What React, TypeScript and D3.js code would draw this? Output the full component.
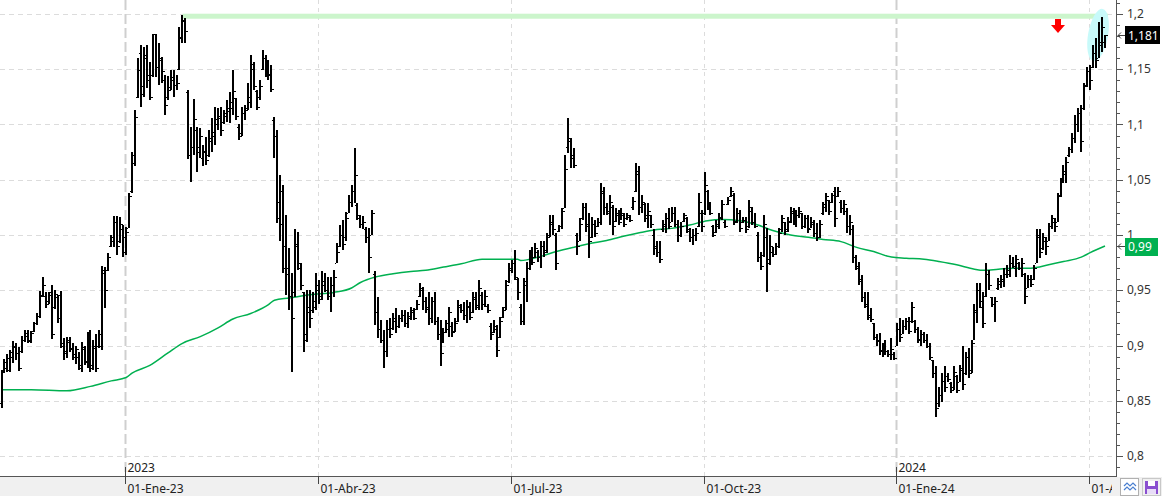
import * as d3 from 'd3';

const W = 1162;
const H = 496;
const START_DAY = '2022-11-03';

// [open, high, low, close] por sesión
const barsQ4_2022 = [
  [0.848, 0.878, 0.843, 0.876], [0.876, 0.888, 0.875, 0.885], [0.880, 0.892, 0.876, 0.889], [0.878, 0.896, 0.876, 0.894],
  [0.890, 0.904, 0.884, 0.900], [0.899, 0.902, 0.887, 0.893], [0.893, 0.899, 0.877, 0.880], [0.895, 0.909, 0.893, 0.905],
  [0.905, 0.914, 0.903, 0.911], [0.909, 0.914, 0.902, 0.904], [0.905, 0.913, 0.902, 0.911], [0.913, 0.921, 0.912, 0.920],
  [0.920, 0.929, 0.919, 0.927], [0.927, 0.949, 0.925, 0.945], [0.946, 0.962, 0.944, 0.955], [0.945, 0.948, 0.934, 0.938],
  [0.940, 0.948, 0.938, 0.946], [0.948, 0.955, 0.906, 0.910], [0.935, 0.950, 0.933, 0.947], [0.944, 0.946, 0.920, 0.925],
  [0.946, 0.949, 0.898, 0.902], [0.900, 0.907, 0.887, 0.895], [0.893, 0.908, 0.889, 0.905], [0.903, 0.908, 0.894, 0.897],
  [0.898, 0.902, 0.887, 0.890], [0.892, 0.900, 0.883, 0.897], [0.890, 0.894, 0.878, 0.882], [0.880, 0.903, 0.876, 0.899],
  [0.897, 0.900, 0.882, 0.886], [0.885, 0.912, 0.880, 0.908], [0.910, 0.914, 0.876, 0.880], [0.882, 0.905, 0.878, 0.900],
  [0.898, 0.910, 0.876, 0.880], [0.900, 0.914, 0.898, 0.910], [0.900, 0.972, 0.896, 0.968], [0.966, 0.971, 0.934, 0.950],
  [0.968, 0.984, 0.967, 0.980], [0.990, 1.000, 0.989, 0.998], [0.995, 1.017, 0.989, 1.012], [1.012, 1.017, 0.982, 0.990],
  [0.995, 1.016, 0.993, 1.010], [1.005, 1.009, 0.980, 0.998],
];

const barsQ1_2023 = [
  [0.985, 1.007, 0.982, 1.003], [1.006, 1.038, 1.006, 1.035], [1.040, 1.075, 1.038, 1.072], [1.065, 1.113, 1.062, 1.107],
  [1.125, 1.160, 1.124, 1.149], [1.165, 1.172, 1.116, 1.135], [1.128, 1.170, 1.125, 1.163], [1.160, 1.172, 1.133, 1.145],
  [1.140, 1.157, 1.122, 1.125], [1.145, 1.182, 1.143, 1.182], [1.182, 1.182, 1.143, 1.152], [1.152, 1.174, 1.136, 1.160],
  [1.158, 1.161, 1.138, 1.148], [1.140, 1.145, 1.109, 1.118], [1.125, 1.144, 1.122, 1.131], [1.134, 1.149, 1.131, 1.140],
  [1.143, 1.149, 1.125, 1.136], [1.136, 1.145, 1.131, 1.138], [1.150, 1.188, 1.149, 1.179], [1.178, 1.199, 1.174, 1.195],
  [1.194, 1.196, 1.174, 1.185], [1.129, 1.131, 1.069, 1.072], [1.072, 1.098, 1.048, 1.080], [1.080, 1.123, 1.072, 1.105],
  [1.095, 1.098, 1.057, 1.075], [1.080, 1.097, 1.070, 1.090], [1.070, 1.081, 1.062, 1.076], [1.075, 1.089, 1.063, 1.068],
  [1.072, 1.095, 1.071, 1.088], [1.085, 1.106, 1.075, 1.093], [1.090, 1.116, 1.081, 1.105], [1.100, 1.115, 1.095, 1.108],
  [1.106, 1.116, 1.090, 1.095], [1.102, 1.113, 1.100, 1.110], [1.108, 1.122, 1.102, 1.115], [1.112, 1.129, 1.101, 1.120],
  [1.115, 1.149, 1.109, 1.130], [1.124, 1.124, 1.104, 1.108], [1.098, 1.100, 1.086, 1.090], [1.092, 1.116, 1.090, 1.110],
  [1.110, 1.118, 1.104, 1.113], [1.115, 1.138, 1.113, 1.125], [1.120, 1.163, 1.115, 1.155], [1.150, 1.157, 1.131, 1.135],
  [1.130, 1.131, 1.113, 1.116], [1.125, 1.140, 1.122, 1.135], [1.150, 1.167, 1.149, 1.160], [1.160, 1.163, 1.143, 1.150],
  [1.148, 1.158, 1.140, 1.145], [1.146, 1.154, 1.129, 1.132], [1.104, 1.107, 1.070, 1.090], [1.090, 1.095, 1.011, 1.015],
  [1.030, 1.054, 0.995, 1.010], [1.040, 1.045, 0.966, 0.970], [0.990, 1.018, 0.946, 0.965], [0.970, 0.988, 0.932, 0.945],
  [0.945, 0.966, 0.876, 0.925], [0.948, 1.005, 0.944, 0.992], [0.990, 1.003, 0.968, 0.975], [0.970, 0.975, 0.950, 0.955],
  [0.948, 0.948, 0.894, 0.905], [0.910, 0.950, 0.903, 0.935], [0.930, 0.950, 0.916, 0.925], [0.932, 0.948, 0.929, 0.940],
  [0.935, 0.966, 0.932, 0.955],
];

const barsQ2_2023 = [
  [0.950, 0.959, 0.938, 0.942], [0.945, 0.967, 0.941, 0.958], [0.955, 0.966, 0.948, 0.950], [0.950, 0.962, 0.941, 0.945],
  [0.945, 0.962, 0.930, 0.955], [0.955, 0.968, 0.944, 0.962], [0.975, 0.993, 0.975, 0.985], [0.990, 1.009, 0.989, 1.000],
  [1.000, 1.014, 0.986, 0.992], [0.998, 1.021, 0.995, 1.015], [1.020, 1.036, 1.020, 1.030], [1.030, 1.045, 1.025, 1.040],
  [1.040, 1.079, 1.029, 1.054], [1.027, 1.029, 1.014, 1.018], [1.015, 1.018, 1.006, 1.010], [1.010, 1.017, 1.005, 1.012],
  [1.005, 1.007, 0.993, 0.998], [0.998, 1.006, 0.966, 0.980], [1.000, 1.023, 1.000, 1.020], [0.965, 0.967, 0.919, 0.930],
  [0.930, 0.944, 0.907, 0.915], [0.915, 0.923, 0.902, 0.905], [0.905, 0.914, 0.880, 0.895], [0.895, 0.923, 0.890, 0.915],
  [0.915, 0.925, 0.907, 0.910], [0.916, 0.929, 0.914, 0.925], [0.922, 0.934, 0.911, 0.918], [0.918, 0.928, 0.916, 0.925],
  [0.925, 0.932, 0.921, 0.928], [0.928, 0.932, 0.917, 0.920], [0.920, 0.930, 0.916, 0.927], [0.925, 0.935, 0.923, 0.932],
  [0.930, 0.934, 0.923, 0.925], [0.933, 0.941, 0.932, 0.938], [0.945, 0.957, 0.944, 0.952], [0.950, 0.953, 0.932, 0.940],
  [0.940, 0.944, 0.929, 0.933], [0.935, 0.948, 0.919, 0.925], [0.925, 0.944, 0.920, 0.940], [0.940, 0.948, 0.919, 0.922],
  [0.922, 0.926, 0.905, 0.910], [0.910, 0.923, 0.881, 0.893], [0.905, 0.916, 0.902, 0.912], [0.912, 0.923, 0.911, 0.920],
  [0.915, 0.935, 0.908, 0.930], [0.918, 0.921, 0.908, 0.912], [0.913, 0.925, 0.912, 0.920], [0.922, 0.941, 0.921, 0.937],
  [0.935, 0.938, 0.929, 0.932], [0.932, 0.939, 0.923, 0.928], [0.928, 0.941, 0.920, 0.936], [0.935, 0.939, 0.923, 0.926],
  [0.930, 0.948, 0.929, 0.944], [0.942, 0.948, 0.932, 0.935], [0.937, 0.959, 0.932, 0.952], [0.946, 0.948, 0.932, 0.938],
  [0.938, 0.950, 0.935, 0.945], [0.936, 0.938, 0.929, 0.932], [0.918, 0.920, 0.905, 0.910], [0.912, 0.923, 0.911, 0.918],
  [0.915, 0.919, 0.890, 0.896], [0.908, 0.926, 0.907, 0.922], [0.926, 0.935, 0.925, 0.932], [0.935, 0.959, 0.932, 0.955],
  [0.958, 0.975, 0.957, 0.970],
];

const barsQ3_2023 = [
  [0.968, 0.977, 0.966, 0.975], [0.975, 0.986, 0.959, 0.962], [0.960, 0.961, 0.941, 0.948], [0.935, 0.938, 0.919, 0.922],
  [0.922, 0.961, 0.919, 0.958], [0.955, 0.976, 0.939, 0.970], [0.970, 0.986, 0.968, 0.982], [0.980, 0.989, 0.973, 0.976],
  [0.980, 0.993, 0.979, 0.988], [0.985, 0.986, 0.976, 0.980], [0.980, 0.995, 0.970, 0.990], [0.990, 0.995, 0.980, 0.985],
  [0.986, 1.002, 0.984, 0.998], [1.000, 1.018, 0.998, 1.012], [1.010, 1.018, 1.000, 1.005], [1.000, 1.002, 0.968, 0.975],
  [1.004, 1.009, 1.003, 1.008], [1.008, 1.024, 1.005, 1.022], [1.024, 1.072, 1.024, 1.060], [1.080, 1.106, 1.074, 1.088],
  [1.085, 1.088, 1.061, 1.072], [1.070, 1.079, 1.061, 1.063], [1.000, 1.002, 0.982, 0.990], [0.995, 1.015, 0.995, 1.010],
  [1.015, 1.029, 1.014, 1.025], [1.025, 1.029, 1.003, 1.010], [1.008, 1.020, 0.979, 0.995], [0.998, 1.016, 0.997, 1.010],
  [1.010, 1.014, 0.998, 1.002], [1.008, 1.015, 1.007, 1.012], [1.012, 1.047, 1.009, 1.040], [1.038, 1.043, 1.018, 1.025],
  [1.025, 1.029, 1.018, 1.022], [1.020, 1.036, 1.009, 1.030], [1.025, 1.027, 1.000, 1.008], [1.013, 1.024, 1.012, 1.020],
  [1.018, 1.023, 1.009, 1.012], [1.014, 1.024, 1.014, 1.020], [1.018, 1.020, 1.007, 1.010], [1.015, 1.020, 1.014, 1.018],
  [1.016, 1.018, 1.012, 1.014], [1.025, 1.034, 1.023, 1.031], [1.040, 1.065, 1.039, 1.058], [1.055, 1.062, 1.018, 1.025],
  [1.025, 1.036, 1.020, 1.030], [1.028, 1.029, 1.012, 1.018], [1.015, 1.029, 1.006, 1.022], [1.018, 1.018, 1.006, 1.010],
  [1.000, 1.005, 0.982, 0.988], [0.990, 0.995, 0.980, 0.985], [0.985, 0.995, 0.975, 0.978], [1.005, 1.014, 1.003, 1.010],
  [1.008, 1.020, 1.002, 1.015], [1.015, 1.024, 1.005, 1.008], [1.012, 1.025, 1.012, 1.020], [1.020, 1.025, 1.007, 1.010],
  [1.010, 1.014, 0.994, 1.000], [1.000, 1.012, 0.998, 1.008], [1.013, 1.020, 1.012, 1.018], [1.015, 1.016, 1.002, 1.005],
  [1.004, 1.006, 0.994, 0.998], [0.998, 1.005, 0.991, 1.000], [1.000, 1.006, 0.995, 1.002], [1.008, 1.038, 1.007, 1.030],
  [1.020, 1.023, 1.003, 1.008],
];

const barsQ4_2023 = [
  [1.020, 1.057, 1.018, 1.045], [1.040, 1.041, 1.023, 1.028], [1.028, 1.030, 1.018, 1.020], [1.008, 1.009, 0.998, 1.000],
  [1.003, 1.014, 1.002, 1.010], [1.008, 1.020, 1.005, 1.016], [1.015, 1.032, 1.014, 1.028], [1.012, 1.014, 1.006, 1.008],
  [1.028, 1.034, 1.027, 1.032], [1.035, 1.043, 1.034, 1.040], [1.036, 1.038, 1.009, 1.012], [1.013, 1.024, 1.011, 1.020],
  [1.020, 1.023, 1.003, 1.006], [1.012, 1.016, 1.011, 1.014], [1.014, 1.016, 1.002, 1.005], [1.008, 1.032, 1.006, 1.025],
  [1.022, 1.025, 1.009, 1.012], [1.012, 1.020, 1.006, 1.008], [1.000, 1.003, 0.976, 0.980], [0.980, 0.985, 0.968, 0.972],
  [0.982, 1.018, 0.980, 1.010], [0.998, 1.006, 0.948, 0.975], [0.978, 1.000, 0.973, 0.990], [0.985, 0.989, 0.980, 0.983],
  [0.983, 0.993, 0.982, 0.990], [0.990, 1.006, 0.988, 1.002], [1.005, 1.018, 1.003, 1.015], [1.012, 1.012, 1.000, 1.004],
  [1.005, 1.016, 1.003, 1.012], [1.013, 1.025, 1.011, 1.022], [1.020, 1.024, 1.009, 1.012], [1.012, 1.023, 1.007, 1.018],
  [1.018, 1.025, 1.015, 1.022], [1.020, 1.020, 1.005, 1.008], [1.008, 1.018, 1.006, 1.015], [1.015, 1.018, 1.002, 1.005],
  [1.006, 1.016, 1.006, 1.012], [1.010, 1.014, 0.998, 1.002], [1.002, 1.011, 0.995, 0.998], [0.998, 1.014, 0.997, 1.010],
  [1.020, 1.030, 1.018, 1.028], [1.025, 1.038, 1.021, 1.035], [1.032, 1.032, 1.018, 1.022], [1.030, 1.038, 1.029, 1.036],
  [1.040, 1.043, 1.007, 1.015], [1.035, 1.043, 1.034, 1.040], [1.030, 1.032, 1.020, 1.024], [1.024, 1.032, 1.018, 1.028],
  [1.022, 1.024, 1.002, 1.008], [1.008, 1.018, 1.000, 1.012], [1.005, 1.009, 0.975, 0.980], [0.980, 0.982, 0.968, 0.972],
  [0.970, 0.976, 0.955, 0.960], [0.958, 0.964, 0.939, 0.944], [0.944, 0.948, 0.934, 0.936], [0.938, 0.948, 0.923, 0.926],
  [0.928, 0.934, 0.921, 0.924], [0.920, 0.920, 0.905, 0.908], [0.908, 0.910, 0.900, 0.904], [0.905, 0.911, 0.891, 0.895],
  [0.896, 0.902, 0.890, 0.900], [0.900, 0.905, 0.891, 0.895], [0.895, 0.896, 0.890, 0.892], [0.892, 0.907, 0.887, 0.897],
  [0.892, 0.894, 0.887, 0.889],
];

const barsQ1_2024 = [
  [0.900, 0.920, 0.900, 0.915], [0.915, 0.925, 0.903, 0.908], [0.910, 0.923, 0.910, 0.918], [0.918, 0.925, 0.914, 0.922],
  [0.922, 0.926, 0.910, 0.913], [0.922, 0.939, 0.920, 0.935], [0.922, 0.923, 0.911, 0.915], [0.915, 0.917, 0.902, 0.906],
  [0.905, 0.914, 0.900, 0.910], [0.910, 0.912, 0.902, 0.905], [0.905, 0.910, 0.898, 0.900], [0.900, 0.902, 0.887, 0.890],
  [0.887, 0.887, 0.871, 0.875], [0.875, 0.881, 0.835, 0.843], [0.848, 0.862, 0.844, 0.855], [0.855, 0.875, 0.849, 0.868],
  [0.868, 0.881, 0.858, 0.862], [0.872, 0.875, 0.867, 0.870], [0.866, 0.867, 0.857, 0.860], [0.862, 0.881, 0.860, 0.876],
  [0.872, 0.873, 0.857, 0.860], [0.867, 0.882, 0.867, 0.878], [0.880, 0.900, 0.860, 0.865], [0.875, 0.894, 0.873, 0.890],
  [0.890, 0.898, 0.871, 0.875], [0.878, 0.905, 0.875, 0.902], [0.905, 0.938, 0.905, 0.932], [0.930, 0.957, 0.920, 0.950],
  [0.950, 0.957, 0.934, 0.940], [0.935, 0.948, 0.916, 0.920], [0.945, 0.975, 0.944, 0.965], [0.965, 0.968, 0.950, 0.955],
  [0.944, 0.944, 0.935, 0.938], [0.938, 0.944, 0.921, 0.940], [0.952, 0.961, 0.950, 0.958], [0.956, 0.964, 0.952, 0.960],
  [0.958, 0.970, 0.953, 0.965], [0.965, 0.973, 0.961, 0.968], [0.965, 0.982, 0.962, 0.975], [0.975, 0.980, 0.970, 0.972],
  [0.970, 0.982, 0.962, 0.978], [0.975, 0.976, 0.968, 0.970], [0.970, 0.979, 0.962, 0.975], [0.965, 0.966, 0.938, 0.945],
  [0.952, 0.964, 0.952, 0.960], [0.960, 0.964, 0.953, 0.956], [0.960, 0.973, 0.959, 0.970], [0.975, 1.005, 0.975, 1.000],
  [0.998, 1.005, 0.979, 0.985], [0.988, 1.002, 0.986, 0.998], [0.995, 0.998, 0.982, 0.990], [0.995, 1.011, 0.995, 1.008],
  [1.008, 1.018, 1.005, 1.015], [1.012, 1.015, 1.003, 1.008], [1.012, 1.038, 1.012, 1.035], [1.036, 1.052, 1.034, 1.048],
  [1.050, 1.063, 1.047, 1.058], [1.055, 1.071, 1.047, 1.066], [1.072, 1.080, 1.071, 1.078], [1.078, 1.092, 1.074, 1.088],
  [1.088, 1.109, 1.083, 1.100], [1.100, 1.115, 1.093, 1.110], [1.110, 1.118, 1.075, 1.085], [1.115, 1.138, 1.113, 1.135],
  [1.136, 1.152, 1.134, 1.148], [1.148, 1.154, 1.131, 1.140], [1.152, 1.172, 1.151, 1.165], [1.165, 1.178, 1.151, 1.158],
  [1.160, 1.193, 1.160, 1.175], [1.172, 1.197, 1.166, 1.188], [1.175, 1.181, 1.169, 1.181],
];

// media móvil (verde): sesión -> valor
const maBar = [0, 10, 22, 30, 37, 42, 44, 50, 56, 61, 67, 73, 78, 84, 90, 92, 97, 104, 112, 118, 121, 126, 132, 138,
  143, 149, 155, 162, 174, 175, 181, 187, 193, 198, 204, 210, 215, 221, 226, 232, 238, 243, 249, 255, 260, 266, 272, 277,
  283, 288, 294, 300, 305, 311, 316, 322, 328, 331, 336, 341, 347, 353, 358, 364, 367, 372];
const maValue = [0.860, 0.860, 0.859, 0.863, 0.868, 0.871, 0.875, 0.882, 0.893, 0.902, 0.908, 0.916, 0.924, 0.929,
  0.937, 0.941, 0.943, 0.946, 0.948, 0.952, 0.957, 0.962, 0.965, 0.967, 0.968, 0.971, 0.974, 0.978, 0.978, 0.977, 0.980,
  0.985, 0.989, 0.992, 0.995, 0.999, 1.002, 1.005, 1.006, 1.009, 1.013, 1.014, 1.013, 1.009, 1.004, 1.000, 0.998, 0.996,
  0.994, 0.989, 0.985, 0.980, 0.979, 0.978, 0.976, 0.973, 0.969, 0.968, 0.969, 0.970, 0.970, 0.973, 0.976, 0.980, 0.984, 0.990];

const yTicks = [0.8, 0.85, 0.9, 0.95, 1, 1.05, 1.1, 1.15, 1.2];
const yTickLabels = ['0,8', '0,85', '0,9', '0,95', '1', '1,05', '1,1', '1,15', '1,2'];
const quarterStarts = ['2023-01-01', '2023-04-01', '2023-07-01', '2023-10-01', '2024-01-01', '2024-04-01'];
const quarterLabels = ['01-Ene-23', '01-Abr-23', '01-Jul-23', '01-Oct-23', '01-Ene-24', '01-Abr-24'];
const yearLabels = ['2023', '', '', '', '2024', ''];
const resistanceLevel = 1.198;
const resistanceFrom = 61;
const lastCloseLabel = '1,181';
const maLabel = '0,99';

const FONT = '"Segoe UI", "Noto Sans", Arial, sans-serif';

function tradingDays(start: string, n: number): Date[] {
  const out: Date[] = [];
  const d = new Date(start + 'T00:00:00Z');
  while (out.length < n) {
    const wd = d.getUTCDay();
    if (wd !== 0 && wd !== 6) out.push(new Date(d));
    d.setUTCDate(d.getUTCDate() + 1);
  }
  return out;
}

export default function App() {
  const bars = [...barsQ4_2022, ...barsQ1_2023, ...barsQ2_2023, ...barsQ3_2023, ...barsQ4_2023, ...barsQ1_2024];
  const n = bars.length;
  const dates = tradingDays(START_DAY, n);

  const plotRight = 1116;
  const axisY = 476;
  const x = d3.scaleLinear().domain([0, n - 1]).range([1.5, 1105]);
  const y = d3.scaleLinear().domain([0.8, 1.2]).range([456, 14]);

  const quarterIdx = quarterStarts.map(q => {
    const t = new Date(q + 'T00:00:00Z').getTime();
    return dates.findIndex(d => d.getTime() >= t);
  });

  const minorTicks = d3.range(79, 122).map(v => v / 100);

  const maLine = d3.line<number>()
    .x((_, i) => x(maBar[i]))
    .y(d => y(d))
    .curve(d3.curveMonotoneX);

  const last = bars[n - 1];
  const lastY = Math.round(y(last[3]));
  const maY = Math.round(y(maValue[maValue.length - 1]));
  const arrowX = Math.round(x(356));
  const ex = x(n - 3) - 1;
  const ey = y(last[3]);

  return (
    <div style={{ position: 'absolute', left: 0, top: 0 }}>
      <svg width={W} height={H} style={{ display: 'block', background: '#fff' }}>
        <defs>
          <clipPath id="xlab">
            <rect x={0} y={axisY} width={1112} height={H - axisY} />
          </clipPath>
        </defs>

        {/* rejilla horizontal */}
        {yTicks.map(t => (
          <line key={'h' + t} x1={0} x2={plotRight} y1={Math.round(y(t)) + 0.5} y2={Math.round(y(t)) + 0.5}
            stroke="#dcdcdc" strokeDasharray="5,4" />
        ))}
        {/* rejilla vertical */}
        {quarterIdx.map((qi, k) => {
          const xx = Math.round(x(qi)) - 1 + 0.5;
          const isYear = yearLabels[k] !== '';
          return (
            <line key={'v' + k} x1={xx} x2={xx} y1={0} y2={axisY}
              stroke={isYear ? '#cfcfcf' : '#dcdcdc'} strokeWidth={isYear ? 2 : 1}
              strokeDasharray={isYear ? '10,4' : '4,4'} />
          );
        })}

        {/* resistencia */}
        <rect x={x(resistanceFrom)} y={y(resistanceLevel) - 2.5} width={x(n - 1) + 3 - x(resistanceFrom)} height={5}
          fill="#ccf5cc" />
        {/* elipse resaltado */}
        <ellipse cx={ex} cy={ey} rx={10} ry={26.5} fill="#c8fafa" transform={`rotate(10 ${ex} ${ey})`} />

        {/* media móvil */}
        <path d={maLine(maValue) ?? ''} fill="none" stroke="#00b050" strokeWidth={1.5} />

        {/* barras OHLC */}
        <g fill="#000" shapeRendering="crispEdges">
          {bars.map((b, i) => {
            const cx = Math.round(x(i));
            const yh = Math.round(y(b[1]));
            const yl = Math.round(y(b[2]));
            return (
              <g key={i}>
                <rect x={cx - 1} y={yh} width={2} height={Math.max(1, yl - yh)} />
                <rect x={cx - 2} y={Math.round(y(b[0]))} width={1} height={1} />
                <rect x={cx + 1} y={Math.round(y(b[3]))} width={1.5} height={1} />
              </g>
            );
          })}
        </g>

        {/* flecha roja */}
        <path d={`M${arrowX - 3},19 h6 v6 h4 l-7,8 l-7,-8 h4 z`} fill="#ff0000" />

        {/* eje derecho */}
        <line x1={plotRight + 0.5} x2={plotRight + 0.5} y1={0} y2={axisY} stroke="#555" />
        {minorTicks.map(t => (
          <line key={'m' + t} x1={plotRight} x2={plotRight + 4} y1={Math.round(y(t)) + 0.5} y2={Math.round(y(t)) + 0.5}
            stroke="#555" />
        ))}
        {yTicks.map((t, k) => (
          <g key={'yt' + t}>
            <line x1={plotRight} x2={plotRight + 7} y1={Math.round(y(t)) + 0.5} y2={Math.round(y(t)) + 0.5} stroke="#555" />
            <text x={plotRight + 11} y={y(t) + 4} fontSize={12} fontFamily={FONT} fill="#333">{yTickLabels[k]}</text>
          </g>
        ))}

        {/* etiquetas de precio */}
        <path d={`M${plotRight + 2},${lastY + 0.5} h7 M${plotRight + 5},${lastY - 2.5} l-3,3 l3,3`} stroke="#444" fill="none" />
        <rect x={1125} y={lastY - 9} width={35} height={18} fill="#000" />
        <text x={1128} y={lastY + 4.5} fontSize={12} fontFamily={FONT} fill="#fff">{lastCloseLabel}</text>
        <path d={`M${plotRight + 2},${maY + 0.5} h7 M${plotRight + 5},${maY - 2.5} l-3,3 l3,3`} stroke="#444" fill="none" />
        <rect x={1125} y={maY - 8} width={33} height={18} fill="#00b050" />
        <text x={1128} y={maY + 5} fontSize={12} fontFamily={FONT} fill="#fff">{maLabel}</text>

        {/* eje inferior */}
        <rect x={0} y={axisY + 1} width={W} height={H - axisY - 1} fill="#f0f0f0" />
        <line x1={0} x2={plotRight + 1} y1={axisY + 0.5} y2={axisY + 0.5} stroke="#555" />
        {quarterIdx.map((qi, k) => {
          const xx = Math.round(x(qi)) - 1 + 0.5;
          return (
            <g key={'q' + k}>
              <line x1={xx} x2={xx} y1={axisY} y2={axisY + 8} stroke="#444" />
              <text x={xx + 2} y={axisY + 17} fontSize={12} fontFamily={FONT} fill="#222" clipPath="url(#xlab)">
                {quarterLabels[k]}
              </text>
              {yearLabels[k] && (
                <>
                  <line x1={xx} x2={xx} y1={axisY - 9} y2={axisY} stroke="#444" />
                  <text x={xx + 2} y={axisY - 4} fontSize={12} fontFamily={FONT} fill="#222">{yearLabels[k]}</text>
                </>
              )}
            </g>
          );
        })}

        {/* botones */}
        <rect x={1120.5} y={478.5} width={18} height={17} fill="#fff" stroke="#b0b0b0" />
        <path d="M1124,486 l3,-3 l3,3 l3,-3 l3,3 M1124,490 l3,-3 l3,3 l3,-3 l3,3" stroke="#4a7fd0" fill="none" strokeWidth={1.2} />
        <rect x={1142.5} y={478.5} width={18} height={17} fill="#f0f0f0" stroke="#c8c8c8" />
        <rect x={1145} y={481} width={13} height={13} fill="#8a4fd0" />
        <rect x={1148} y={481} width={7} height={5} fill="#fff" />
        <rect x={1147} y={489} width={9} height={5} fill="#e8ddf7" />
      </svg>
    </div>
  );
}
